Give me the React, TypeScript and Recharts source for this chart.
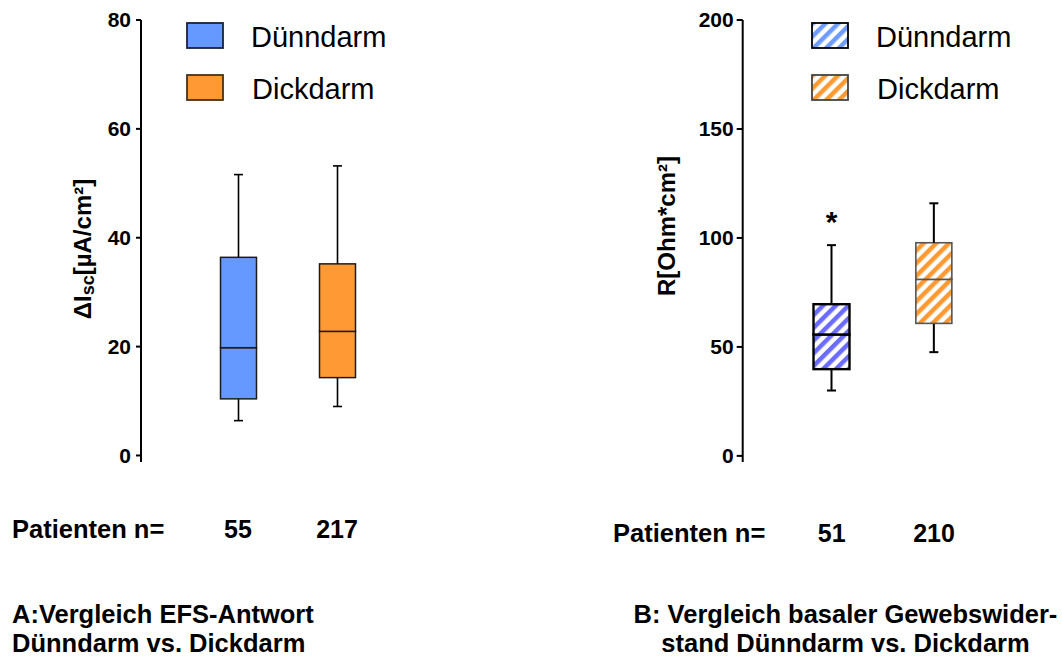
import React from 'react';
import { ComposedChart, Bar, XAxis, YAxis, Legend } from 'recharts';

const groups = ['Dünndarm', 'Dickdarm'];

// A: EFS-Antwort, ΔIsc [µA/cm²]
const efsMin = [6.4, 9.0];
const efsQ1 = [10.4, 14.3];
const efsMedian = [19.8, 22.8];
const efsQ3 = [36.4, 35.2];
const efsMax = [51.6, 53.2];
const efsN = [55, 217];
const efsTicks = [0, 20, 40, 60, 80];

// B: basaler Gewebswiderstand, R [Ohm*cm²]
const resMin = [30.0, 47.6];
const resQ1 = [39.8, 60.8];
const resMedian = [55.7, 81.0];
const resQ3 = [69.6, 97.8];
const resMax = [96.7, 115.9];
const resN = [51, 210];
const resSignificant = [true, false];
const resTicks = [0, 50, 100, 150, 200];

const buildRows = (mins: number[], q1s: number[], meds: number[], q3s: number[], maxs: number[], ns: number[], sig: boolean[]) =>
  groups.map((name, i) => ({
    name,
    n: ns[i],
    sig: sig[i],
    base: mins[i],
    lowWhisker: q1s[i] - mins[i],
    lowBox: meds[i] - q1s[i],
    highBox: q3s[i] - meds[i],
    highWhisker: maxs[i] - q3s[i],
  }));

const efsRows = buildRows(efsMin, efsQ1, efsMedian, efsQ3, efsMax, efsN, [false, false]);
const resRows = buildRows(resMin, resQ1, resMedian, resQ3, resMax, resN, resSignificant);

const FONT = '"Liberation Sans", Arial, Helvetica, sans-serif';

const Hatch = ({ id, color }: { id: string; color: string }) => (
  <pattern id={id} width={9} height={9} patternUnits="userSpaceOnUse" patternTransform="rotate(45)">
    <rect width={9} height={9} fill="#fff" />
    <rect width={4.5} height={9} fill={color} />
  </pattern>
);

const HatchDefs = () => (
  <svg width={0} height={0} style={{ position: 'absolute' }}>
    <defs>
      <Hatch id="hatchBlueBox" color="#6b6bff" />
      <Hatch id="hatchBlueLegend" color="#6f9cff" />
      <Hatch id="hatchOrange" color="#ff9a33" />
    </defs>
  </svg>
);

type Style = {
  fills: string[];
  strokes: string[];
  strokeWidths: number[];
  whisker: number;
  legendFills: string[];
  legendStrokes: string[];
};

const whiskerShape = (st: Style, upper: boolean) => (p: any) => {
  const cx = p.x + p.width / 2;
  const top = p.y;
  const bottom = p.y + p.height;
  const capY = upper ? top : bottom;
  return (
    <g>
      <line x1={cx} x2={cx} y1={top} y2={bottom} stroke="#000" strokeWidth={st.whisker} />
      <line x1={cx - 4.5} x2={cx + 4.5} y1={capY} y2={capY} stroke="#000" strokeWidth={st.whisker} />
      {upper && p.payload.sig ? (
        <text x={cx} y={top - 13} textAnchor="middle" fontSize={30} fontWeight="bold" fill="#000">*</text>
      ) : null}
    </g>
  );
};

const boxShape = (st: Style) => (p: any) => (
  <rect
    x={p.x}
    y={p.y}
    width={p.width}
    height={p.height}
    fill={st.fills[p.index]}
    stroke={st.strokes[p.index]}
    strokeWidth={st.strokeWidths[p.index]}
  />
);

const CountTick = (p: any) => (
  <text x={p.x} y={p.y + p.offset} textAnchor="middle" fontSize={25} fontWeight="bold" fill="#000">
    {p.rows[p.index]?.n}
  </text>
);

const LegendBoxes = ({ st }: { st: Style }) => (
  <svg width={240} height={100}>
    {groups.map((name, i) => (
      <g key={name} transform={`translate(0, ${i * 52})`}>
        <rect x={1} y={1} width={36} height={25} fill={st.legendFills[i]} stroke={st.legendStrokes[i]} strokeWidth={1.8} />
        <text x={65 + i} y={15} dominantBaseline="central" fontSize={29} fill="#000">{name}</text>
      </g>
    ))}
  </svg>
);

const EfsTitle = (p: any) => (
  <text
    x={p.px}
    y={p.py}
    transform={`rotate(-90, ${p.px}, ${p.py})`}
    textAnchor="middle"
    dominantBaseline="central"
    fontSize={24}
    fontWeight="bold"
    fill="#000"
  >
    ΔI<tspan dy={6} fontSize={18}>sc</tspan><tspan dy={-6}>[µA/cm²]</tspan>
  </text>
);

const ResTitle = (p: any) => (
  <text
    x={p.px}
    y={p.py}
    transform={`rotate(-90, ${p.px}, ${p.py})`}
    textAnchor="middle"
    dominantBaseline="central"
    fontSize={24}
    fontWeight="bold"
    fill="#000"
  >
    R[Ohm*cm²]
  </text>
);

type ChartProps = {
  rows: any[];
  width: number;
  axisX: number;
  domain: [number, number];
  ticks: number[];
  padding: { left: number; right: number };
  st: Style;
  title: React.ReactElement;
  legendLeft: number;
  countOffset: number;
  tickMargin: number;
  tickSize: number;
};

const BoxChart = ({ rows, width, axisX, domain, ticks, padding, st, title, legendLeft, countOffset, tickMargin, tickSize }: ChartProps) => (
  <ComposedChart width={width} height={657} data={rows} margin={{ top: 20, right: 0, bottom: 0, left: axisX - 60 }}>
    <XAxis
      dataKey="name"
      axisLine={false}
      tickLine={false}
      tickSize={0}
      tickMargin={0}
      height={195}
      padding={padding}
      interval={0}
      tick={<CountTick rows={rows} offset={countOffset} />}
    />
    <YAxis
      type="number"
      width={60}
      domain={domain}
      ticks={ticks}
      interval={0}
      allowDataOverflow
      axisLine={{ stroke: '#000', strokeWidth: 2 }}
      tickLine={{ stroke: '#000', strokeWidth: 2 }}
      tickSize={tickSize}
      tickMargin={tickMargin}
      tick={{ fill: '#000', fontSize: 21, fontWeight: 'bold' }}
      label={title}
    />
    <Legend
      layout="horizontal"
      verticalAlign="middle"
      content={() => <LegendBoxes st={st} />}
      wrapperStyle={{ left: legendLeft, top: 22, width: 240, height: 100 }}
    />
    <Bar dataKey="base" stackId="s" barSize={36} fill="none" shape={() => <g />} isAnimationActive={false} />
    <Bar dataKey="lowWhisker" stackId="s" barSize={36} shape={whiskerShape(st, false)} isAnimationActive={false} />
    <Bar dataKey="lowBox" stackId="s" barSize={36} shape={boxShape(st)} isAnimationActive={false} />
    <Bar dataKey="highBox" stackId="s" barSize={36} shape={boxShape(st)} isAnimationActive={false} />
    <Bar dataKey="highWhisker" stackId="s" barSize={36} shape={whiskerShape(st, true)} isAnimationActive={false} />
  </ComposedChart>
);

const efsStyle: Style = {
  fills: ['#6699ff', '#ff9933'],
  strokes: ['#1c1c1c', '#1c1c1c'],
  strokeWidths: [1.5, 1.5],
  whisker: 1.6,
  legendFills: ['#6699ff', '#ff9933'],
  legendStrokes: ['#1a2238', '#4a3018'],
};

const resStyle: Style = {
  fills: ['url(#hatchBlueBox)', 'url(#hatchOrange)'],
  strokes: ['#000', '#555'],
  strokeWidths: [2.4, 1.6],
  whisker: 2,
  legendFills: ['url(#hatchBlueLegend)', 'url(#hatchOrange)'],
  legendStrokes: ['#000', '#444'],
};

const textStyle: React.CSSProperties = {
  position: 'absolute',
  fontSize: 25.5,
  fontWeight: 'bold',
  color: '#000',
  whiteSpace: 'nowrap',
};

export default function App() {
  return (
    <div style={{ position: 'absolute', left: 0, top: 0, width: 1062, height: 657, background: '#fff', fontFamily: FONT, overflow: 'hidden' }}>
      <HatchDefs />
      <div style={{ position: 'absolute', left: 0, top: 0 }}>
        <BoxChart
          rows={efsRows}
          width={440}
          axisX={141}
          domain={[-1.2, 80]}
          ticks={efsTicks}
          padding={{ left: 47.5, right: 53.5 }}
          st={efsStyle}
          title={<EfsTitle px={82} py={249} />}
          legendLeft={186}
          countOffset={76}
          tickMargin={5}
          tickSize={5}
        />
      </div>
      <div style={{ position: 'absolute', left: 540, top: 0 }}>
        <BoxChart
          rows={resRows}
          width={522}
          axisX={202.7}
          domain={[-2.8, 200]}
          ticks={resTicks}
          padding={{ left: 37.8, right: 76.8 }}
          st={resStyle}
          title={<ResTitle px={126} py={226} />}
          legendLeft={271}
          countOffset={80}
          tickMargin={3}
          tickSize={6}
        />
      </div>
      <div style={{ ...textStyle, left: 12, top: 514, lineHeight: '30px' }}>Patienten n=</div>
      <div style={{ ...textStyle, left: 613, top: 518, lineHeight: '30px' }}>Patienten n=</div>
      <div style={{ ...textStyle, left: 12, top: 600, lineHeight: '29px' }}>
        A:Vergleich EFS-Antwort<br />Dünndarm vs. Dickdarm
      </div>
      <div style={{ ...textStyle, left: 620, top: 600, width: 451, textAlign: 'center', lineHeight: '29px' }}>
        B: Vergleich basaler Gewebswider-<br />stand Dünndarm vs. Dickdarm
      </div>
    </div>
  );
}
